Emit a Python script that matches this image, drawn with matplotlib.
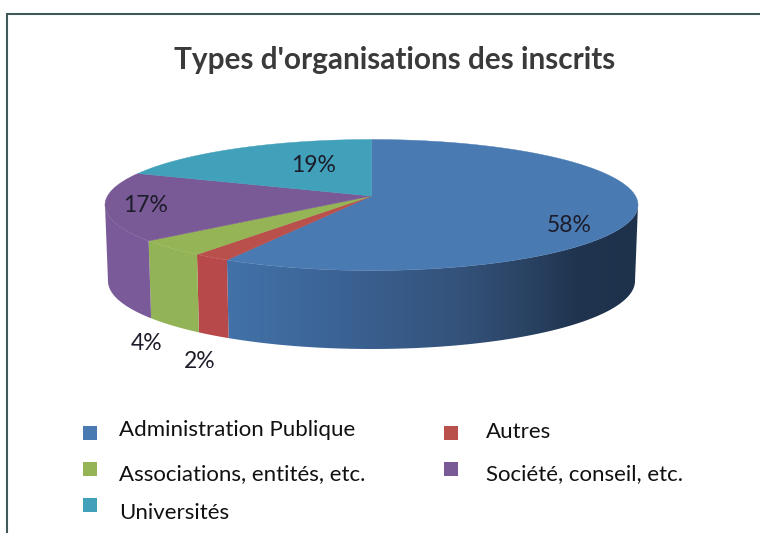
import numpy as np
import matplotlib
matplotlib.use("Agg")
import matplotlib.pyplot as plt
from matplotlib.colors import LinearSegmentedColormap
from matplotlib.patches import Polygon

plt.rcParams['font.family'] = ['Lato', 'DejaVu Sans']

title = "Types d'organisations des inscrits"
categories = ["Administration Publique", "Autres", "Associations, entités, etc.",
              "Société, conseil, etc.", "Universités"]
shares = [58, 2, 4, 17, 19]
colors = ["#4a7ab2", "#b9504c", "#94b455", "#7a5a96", "#41a0ba"]
side_colors = [None, "#b8494a", "#92b356", "#7a5a98", "#41a0ba"]

label_pos = [(569, 225), (200, 362), (147, 343), (146, 205), (314, 165)]
legend_pos = [(90, 433, 119, 430), (451, 433, 486, 432), (90, 469, 119, 474),
              (451, 469, 486, 474), (90, 505, 119, 513)]

# projected pie geometry (pixels)
CX, CY, A, B = 371.5, 205.0, 266.5, 65.5
BCY, BA, BB = 281.0, 263.5, 68.0
R = 0.137  # perspective shift of the pie centre


def project(t):
    """Clockwise angle from the top -> normalised ellipse coordinates."""
    x, y = np.sin(t), np.cos(t)
    den = 1 + R * y
    return x * np.sqrt(1 - R ** 2) / den, (y + R) / den


fig = plt.figure(figsize=(7.6, 5.33), dpi=100)
ax = fig.add_axes([0, 0, 1, 1])
ax.set_xlim(0, 760)
ax.set_ylim(533, 0)
ax.axis('off')

edges = np.radians(np.concatenate([[0], np.cumsum(shares)]) * 3.6)
t_front = np.arccos(-R)  # where the rim passes the widest point
grad = LinearSegmentedColormap.from_list(
    "side", [(0, "#4272a9"), (0.33, "#3a6090"), (0.57, "#34527a"),
             (0.74, "#294262"), (0.85, "#20344f"), (1, "#1f324c")])

for i in range(len(shares)):
    t0, t1 = edges[i], edges[i + 1]
    # visible side wall: front part of the rim only
    a, b = max(t0, t_front), min(t1, 2 * np.pi - t_front)
    if b > a:
        t = np.linspace(a, b, 200)
        px, py = project(t)
        top = np.column_stack([CX + A * px, CY - B * py])
        bot = np.column_stack([CX + BA * px, BCY - BB * py])
        poly = np.vstack([top, bot[::-1]])
        if side_colors[i] is None:
            im = ax.imshow(np.linspace(0, 1, 256)[None, :], cmap=grad, aspect='auto',
                           extent=(225, 638, 349, 205), zorder=2)
            clip = Polygon(poly, transform=ax.transData, fc='none', ec='none')
            ax.add_patch(clip)
            im.set_clip_path(clip)
        else:
            ax.fill(poly[:, 0], poly[:, 1], color=side_colors[i], lw=0, zorder=2)
ax.set_xlim(0, 760)
ax.set_ylim(533, 0)

apex = (CX, CY - B * R)
for i in range(len(shares)):
    t = np.linspace(edges[i], edges[i + 1], 300)
    px, py = project(t)
    xs = np.concatenate([[apex[0]], CX + A * px])
    ys = np.concatenate([[apex[1]], CY - B * py])
    ax.fill(xs, ys, color=colors[i], lw=0.3, zorder=3)

for v, (lx, ly) in zip(shares, label_pos):
    ax.text(lx, ly, f"{v}%", fontsize=16.5, color="#1c1c2a", ha='center', va='center', zorder=5)

for name, col, (mx, my, tx, ty) in zip(categories, colors, legend_pos):
    ax.scatter([mx], [my], marker='s', s=100, color=col, linewidths=0, zorder=5)
    ax.text(tx, ty, name, fontsize=16, color="#111111", ha='left', va='center')

ax.text(395, 60, title, fontsize=21.4, fontweight='bold', color="#3a3a3a", ha='center', va='center')

ax.plot([6.5, 6.5, 760], [533, 14, 14], color="#41595a", lw=1.5, solid_joinstyle='miter',
        clip_on=False)

fig.savefig("out.png", dpi=100)
